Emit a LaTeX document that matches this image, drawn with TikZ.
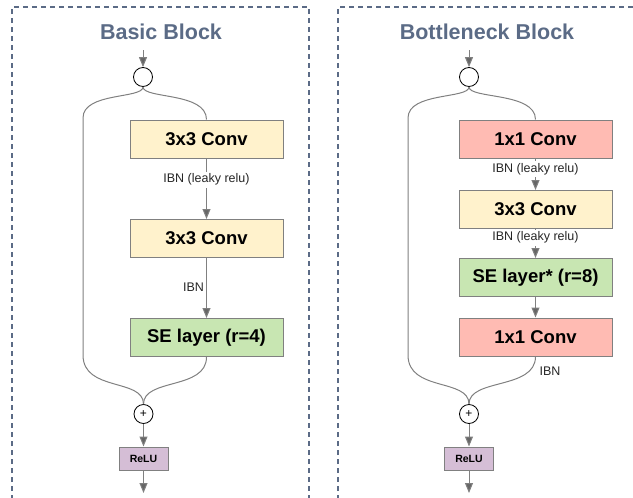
\documentclass[tikz,border=0pt]{standalone}
\usepackage{fontspec}
\setmainfont{Liberation Sans}
\usetikzlibrary{arrows.meta}

\definecolor{frameblue}{HTML}{5B6B86}
\definecolor{linegray}{HTML}{808080}
\definecolor{tipgray}{HTML}{666666}
\definecolor{convyellow}{HTML}{FFF2CC}
\definecolor{convred}{HTML}{FFBBB3}
\definecolor{segreen}{HTML}{C8E6B2}
\definecolor{relupurple}{HTML}{D5BED6}

\tikzset{
  frame/.style={draw=frameblue, line width=1.2pt, dash pattern=on 5pt off 4pt},
  title/.style={text=frameblue, font=\bfseries\fontsize{21.5}{24}\selectfont},
  layer/.style={draw=linegray, line width=1pt, minimum width=153pt, minimum height=38pt,
    inner sep=0pt, font=\bfseries\fontsize{18.5}{21}\selectfont},
  relubox/.style={draw=linegray, line width=1pt, fill=relupurple, minimum width=49pt,
    minimum height=23pt, inner sep=0pt, font=\bfseries\fontsize{10.5}{12}\selectfont},
  junction/.style={circle, draw=black, line width=0.8pt, minimum size=19pt, inner sep=0pt,
    font=\fontsize{12}{13}\selectfont},
  flow/.style={draw=linegray, line width=1pt, -{Triangle[length=10pt,width=8pt,fill=tipgray]}},
  branch/.style={draw=linegray, line width=1pt},
  lbl/.style={fill=white, inner sep=2pt, font=\fontsize{12.5}{14}\selectfont, text=black!85}
}

\begin{document}
\begin{tikzpicture}[x=1pt,y=-1pt]
  \useasboundingbox (0,0) rectangle (633,498);

  % frames and titles
  \draw[frame] (12,500) -- (12,7) -- (309,7) -- (309,500);
  \draw[frame] (338,500) -- (338,7) -- (640,7);
  \node[title] (t1) at (161,32)  {Basic Block};
  \node[title] (t2) at (487,32)  {Bottleneck Block};

  % basic block
  \begin{scope}
    \coordinate (in1)  at (143,50);
    \node[junction] (s1) at (143,77)  {};
    \node[layer, fill=convyellow] (b1) at (206.5,139)   {3x3 Conv};
    \node[layer, fill=convyellow] (b2) at (206.5,238.5) {3x3 Conv};
    \node[layer, fill=segreen]    (b3) at (206.5,337.5) {SE layer (r=4)};
    \node[junction] (p1) at (143.5,414) {+};
    \node[relubox]  (r1) at (143.5,458.5) {ReLU};
    \coordinate (out1) at (143.5,493);
    \coordinate (k1) at (83,118);
    \coordinate (k2) at (83,355);
  \end{scope}

  % bottleneck block
  \begin{scope}
    \coordinate (in2)  at (469,50);
    \node[junction] (s2) at (469,77)  {};
    \node[layer, fill=convred]    (b4) at (535.5,139)   {1x1 Conv};
    \node[layer, fill=convyellow] (b5) at (535.5,209.5) {3x3 Conv};
    \node[layer, fill=segreen]    (b6) at (535.5,277.5) {SE layer* (r=8)};
    \node[layer, fill=convred]    (b7) at (535.5,337)   {1x1 Conv};
    \node[junction] (p2) at (469,414) {+};
    \node[relubox]  (r2) at (469,458.5) {ReLU};
    \coordinate (out2) at (469,493);
    \coordinate (k3) at (408,118);
    \coordinate (k4) at (408,355);
    \node[lbl, fill=none] (n4) at (550,371) {IBN};
  \end{scope}

  % connectors
  \begin{scope}[every edge/.style={flow}]
    \path (in1) edge (s1);
    \path (b1)  edge node[lbl, pos=0.35] {IBN (leaky relu)} (b2);
    \path (b2)  edge node[lbl, fill=none, left, pos=0.48] {IBN} (b3);
    \path (p1)  edge (r1);
    \path (r1)  edge (out1);

    \path (in2) edge (s2);
    \path (b4)  edge node[lbl, pos=0.33] {IBN (leaky relu)} (b5);
    \path (b5)  edge node[lbl, pos=0.3] {IBN (leaky relu)} (b6);
    \path (b6)  edge (b7);
    \path (p2)  edge (r2);
    \path (r2)  edge (out2);
  \end{scope}

  % skip paths
  \draw[branch] (s1.south) .. controls (143,99) and (83,92) .. (k1) -- (k2)
    .. controls (83,392) and (143.5,378) .. (p1.north);
  \draw[branch] (s1.south) .. controls (143,99) and (206.5,92) .. (b1.north);
  \draw[branch] (b3.south) .. controls (206.5,390) and (143.5,378) .. (p1.north);

  \draw[branch] (s2.south) .. controls (469,99) and (408,92) .. (k3) -- (k4)
    .. controls (408,392) and (469,378) .. (p2.north);
  \draw[branch] (s2.south) .. controls (469,99) and (535.5,92) .. (b4.north);
  \draw[branch] (b7.south) .. controls (535.5,390) and (469,378) .. (p2.north);
\end{tikzpicture}
\end{document}
